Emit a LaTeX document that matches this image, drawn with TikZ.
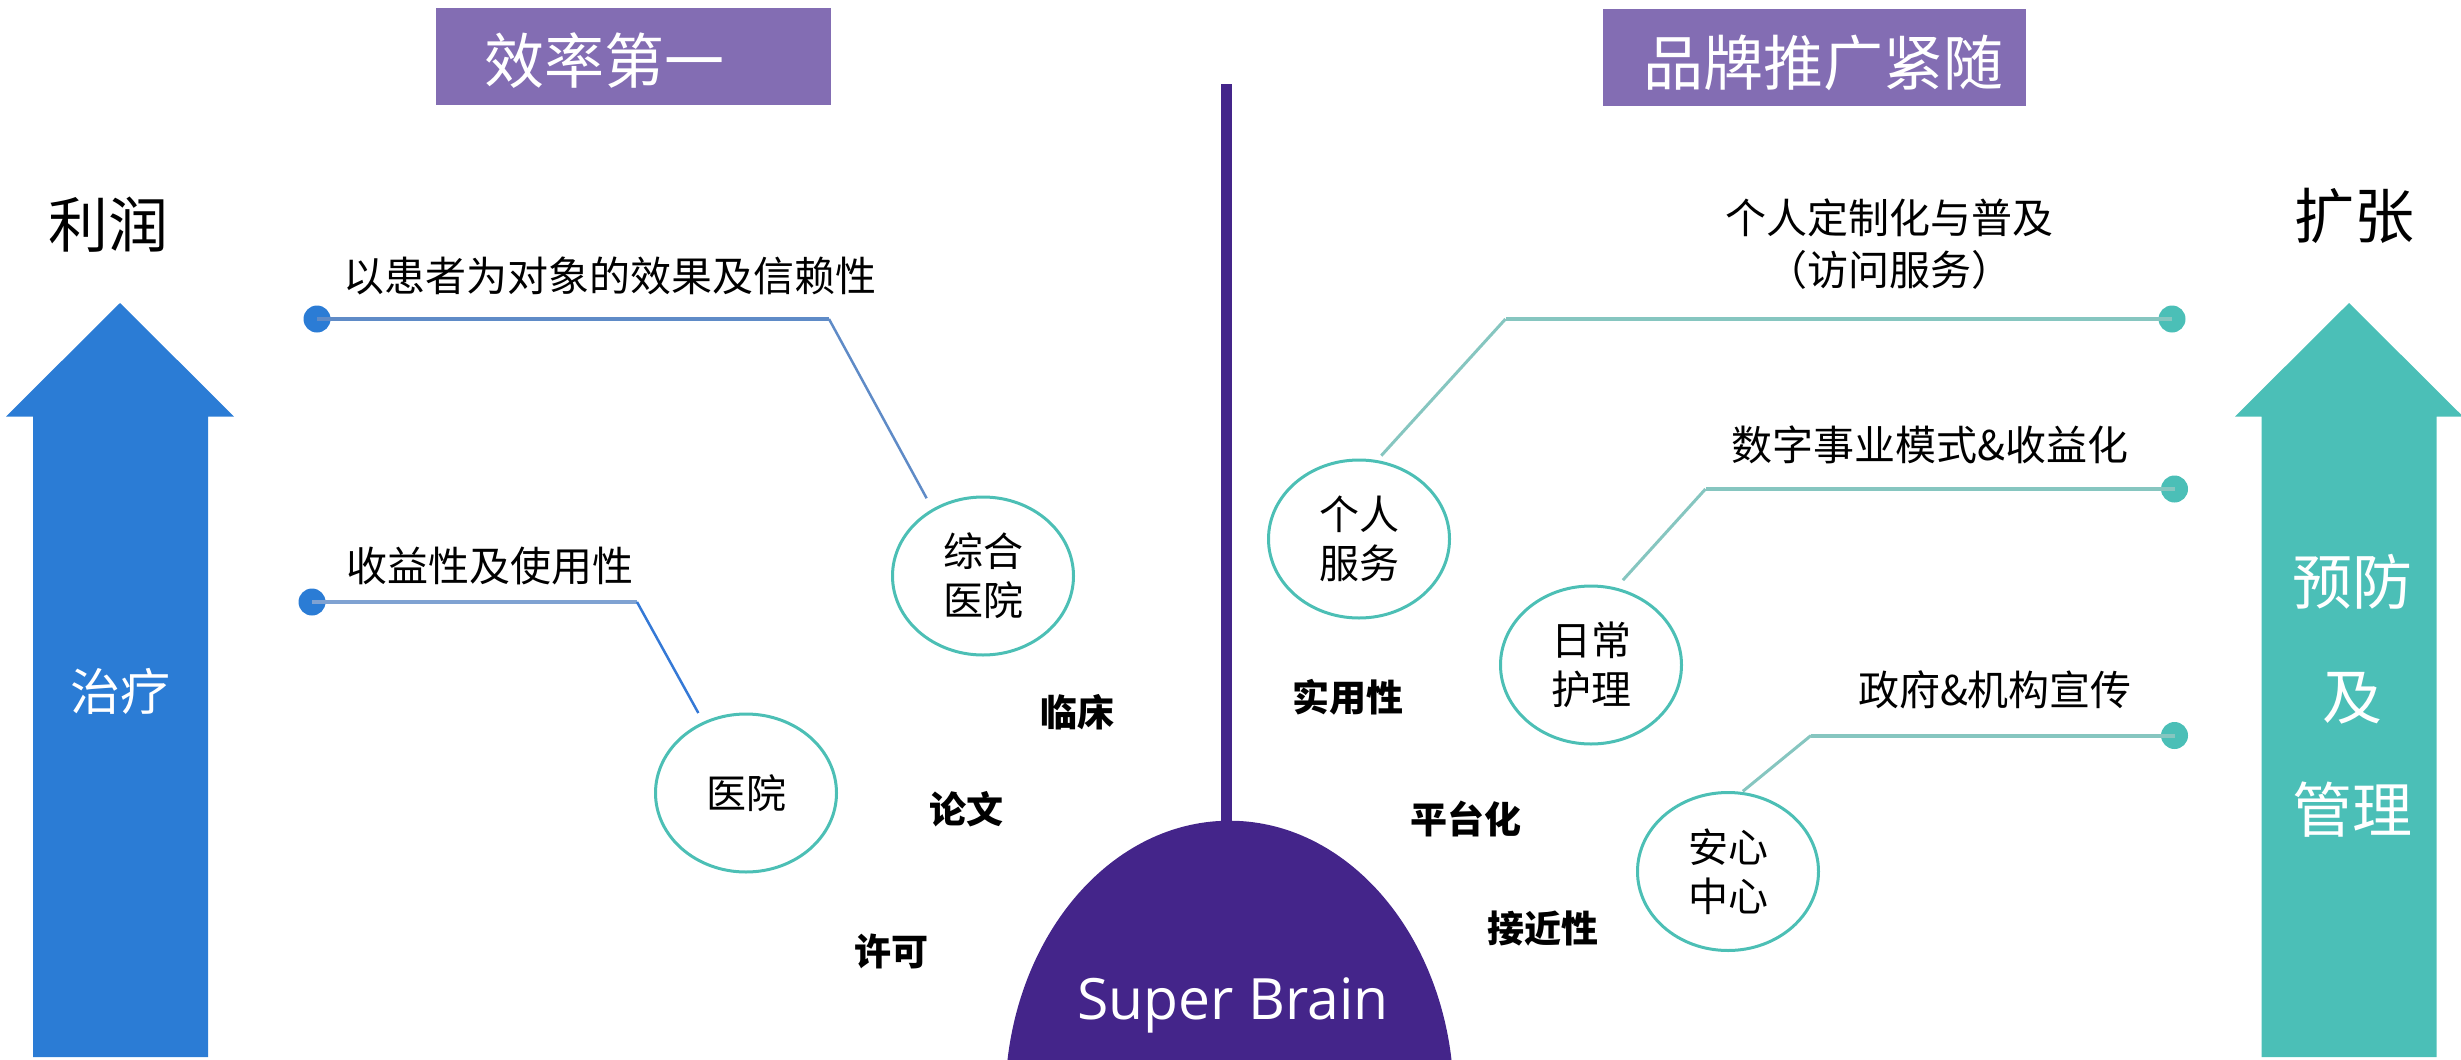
\documentclass[tikz,border=0pt]{standalone}
\usepackage{fontspec}
\setmainfont{Noto Sans CJK SC}
\newfontfamily\latinfont{Open Sans}
\usetikzlibrary{shapes.geometric}
\definecolor{titlepurple}{HTML}{836DB3}
\definecolor{darkpurple}{HTML}{44258A}
\definecolor{blueA}{HTML}{2B7CD5}
\definecolor{tealA}{HTML}{4BBFB7}
\definecolor{ovalteal}{HTML}{4CBFB5}
\definecolor{lineR}{HTML}{86C6C0}
\definecolor{lineL}{HTML}{5F8BC7}
\definecolor{lineLb}{HTML}{3579D6}
\newcommand\myfs[2]{\fontsize{#1}{#2}\selectfont}
\begin{document}
\begin{tikzpicture}[x=1pt,y=-1pt,
  titlebox/.style={fill=titlepurple, draw=none, inner sep=0, minimum width=395pt, minimum height=97pt},
  titletext/.style={text=white, font=\myfs{60}{66}, inner sep=0},
  bigtext/.style={font=\myfs{60}{66}, inner sep=0},
  oval/.style={ellipse, draw=ovalteal, line width=3pt, minimum width=181pt, minimum height=158pt, inner sep=0, align=center, font=\myfs{40}{49}},
  lbl/.style={font=\myfs{41}{52}, inner sep=0, align=center},
  boldlbl/.style={font=\myfs{37}{40}\bfseries, inner sep=0},
  dotL/.style={circle, fill=blueA, minimum size=27pt, inner sep=0},
  dotR/.style={circle, fill=tealA, minimum size=27pt, inner sep=0},
  connL/.style={draw=lineL, line width=3.5pt},
  connLd/.style={draw=lineL, line width=2.5pt},
  connR/.style={draw=lineR, line width=4pt},
  connRd/.style={draw=lineR, line width=3pt},
]
\useasboundingbox (0,0) rectangle (2461,1060);

% big arrows
\fill[blueA] (120,303) -- (234,416.5) -- (208,416.5) -- (208,1057) -- (33,1057) -- (33,416.5) -- (6,416.5) -- cycle;
\fill[tealA] (2349,303) -- (2463,416.5) -- (2436.5,416.5) -- (2436.5,1057) -- (2261.5,1057) -- (2261.5,416.5) -- (2235,416.5) -- cycle;

\node[bigtext] (lirun) at (108,225) {利润};
\node[bigtext] (kuozhang) at (2354,216) {扩张};
\node[font=\myfs{50}{56}, text=white, inner sep=0] (zhiliao) at (120,691) {治疗};
\node[bigtext, text=white] (yufang) at (2352,582) {预防};
\node[bigtext, text=white] (ji) at (2352,698) {及};
\node[bigtext, text=white] (guanli) at (2352,810) {管理};

% title boxes
\node[titlebox] (box1) at (633.5,56.5) {};
\node[titletext] (title1) at (604,61) {效率第一};
\node[titlebox, minimum width=423pt] (box2) at (1814.5,57.5) {};
\node[titletext] (title2) at (1823,62.5) {品牌推广紧随};

% central line and dome
\coordinate (vtop) at (1226.5,84);
\coordinate (vbot) at (1226.5,900);
\draw[darkpurple, line width=10.5pt] (vtop) -- (vbot);
\begin{scope}
\clip (0,0) rectangle (2461,1060);
\fill[darkpurple] (1229.5,1100) ellipse [x radius=224.3pt, y radius=279.3pt];
\end{scope}
\node[text=white, font=\latinfont\myfs{57}{60}, inner sep=0, anchor=base] (sb) at (1233,1019) {Super Brain};

% ovals
\node[oval] (zh) at (983,576) {综合\\医院};
\node[oval] (yy) at (746,793) {医院};
\node[oval] (gr) at (1359,539) {个人\\服务};
\node[oval] (rc) at (1591,665) {日常\\护理};
\node[oval] (ax) at (1728,871.5) {安心\\中心};

% left connectors
\node[dotL] (d1) at (317,319) {};
\coordinate (c1) at (829,319);
\draw[connL] (d1.center) -- (c1);
\draw[connLd, shorten >=12pt] (c1) -- (zh.127);
\node[lbl] (t1) at (610,275.5) {以患者为对象的效果及信赖性};

\node[dotL] (d2) at (312,602) {};
\coordinate (c2) at (637,602);
\draw[connL, draw=lineL!80!white] (d2.center) -- (c2);
\draw[connLd, draw=lineLb, shorten >=10pt] (c2) -- (yy.121);
\node[lbl] (t2) at (489.5,565.5) {收益性及使用性};

% right connectors
\node[dotR] (d3) at (2172,319) {};
\coordinate (c3) at (1505.5,319);
\draw[connR] (d3.center) -- (c3);
\draw[connRd, shorten >=6pt] (c3) -- (gr.77);
\node[lbl] (t3) at (1889,244) {个人定制化与普及\\（访问服务）};

\node[dotR] (d4) at (2174.5,489) {};
\coordinate (c4) at (1705.5,489);
\draw[connR] (d4.center) -- (c4);
\draw[connRd, shorten >=10pt] (c4) -- (rc.72);
\node[lbl] (t4) at (1930,444.5) {数字事业模式\&收益化};

\node[dotR] (d5) at (2174.5,735.5) {};
\coordinate (c5) at (1811,735.5);
\draw[connR] (d5.center) -- (c5);
\draw[connRd, shorten >=1pt] (c5) -- (ax.80);
\node[lbl] (t5) at (1995,689.7) {政府\&机构宣传};

% bold keywords
\node[boldlbl] (k1) at (1077,712.5) {临床};
\node[boldlbl] (k2) at (966,809) {论文};
\node[boldlbl] (k3) at (891.5,951) {许可};
\node[boldlbl] (k4) at (1348,697) {实用性};
\node[boldlbl] (k5) at (1466,819) {平台化};
\node[boldlbl] (k6) at (1543,929) {接近性};
\end{tikzpicture}
\end{document}
